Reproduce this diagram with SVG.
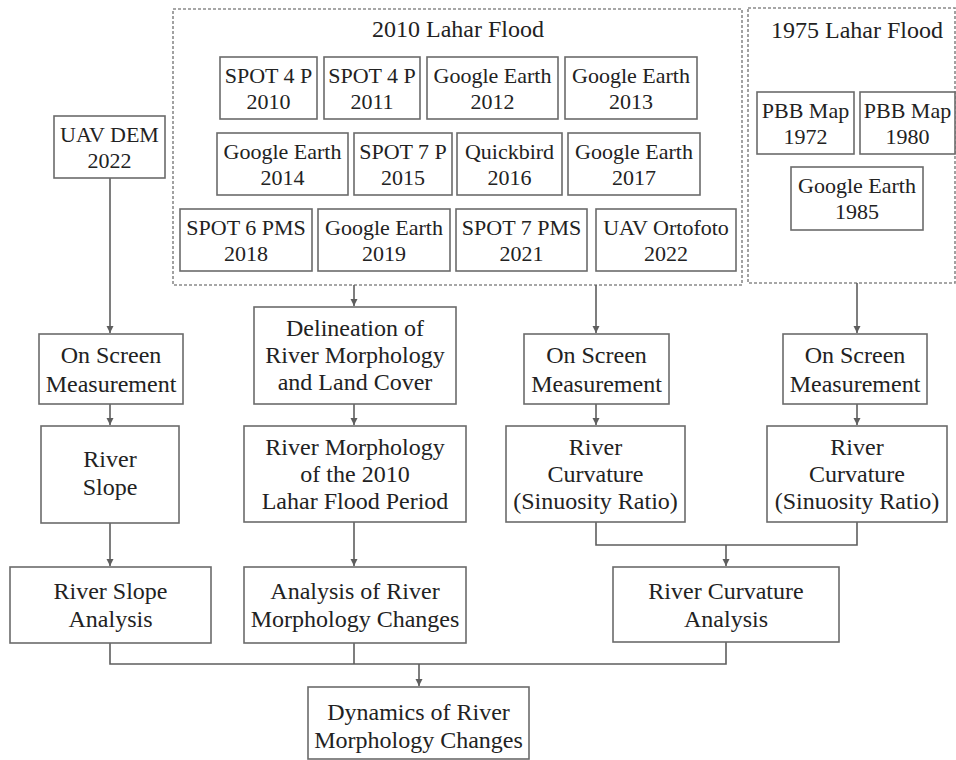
<svg xmlns="http://www.w3.org/2000/svg" width="956" height="760" viewBox="0 0 956 760">
<style>
.b{fill:#fff;stroke:#6b6b6b;stroke-width:1.6}
.d{fill:none;stroke:#8a8a8a;stroke-width:1.6;stroke-dasharray:3 2}
text{font-family:'Liberation Serif','DejaVu Serif',serif;fill:#222;text-anchor:middle}
.s{font-size:22px}
.t{font-size:24px}
.c{fill:none;stroke:#5e5e5e;stroke-width:1.6}
</style>
<defs>
<marker id="a" markerWidth="8" markerHeight="8" refX="7" refY="4" orient="auto" markerUnits="userSpaceOnUse">
<path d="M0,0.5 L7,4 L0,7.5 Z" fill="#5e5e5e"/>
</marker>
</defs>
<rect width="956" height="760" fill="#fff"/>
<g id="group2010">
<rect class="d" x="173" y="9" width="569" height="276"/>
<text class="t" x="458" y="37">2010 Lahar Flood</text>
</g>
<g id="group1975">
<rect class="d" x="748" y="8" width="207" height="275"/>
<text class="t" x="857" y="38">1975 Lahar Flood</text>
</g>
<g id="connectors">
<path class="c" d="M110,178 V333" marker-end="url(#a)"/>
<path class="c" d="M354,285 V306" marker-end="url(#a)"/>
<path class="c" d="M596,285 V333" marker-end="url(#a)"/>
<path class="c" d="M857,283 V333" marker-end="url(#a)"/>
<path class="c" d="M110,404 V425" marker-end="url(#a)"/>
<path class="c" d="M354,404 V425" marker-end="url(#a)"/>
<path class="c" d="M596,404 V425" marker-end="url(#a)"/>
<path class="c" d="M857,404 V425" marker-end="url(#a)"/>
<path class="c" d="M110,523 V566" marker-end="url(#a)"/>
<path class="c" d="M354,522 V566" marker-end="url(#a)"/>
<path class="c" d="M596,522 V545 H857 V522"/>
<path class="c" d="M726,545 V566" marker-end="url(#a)"/>
<path class="c" d="M110,643 V664 H726 V642"/>
<path class="c" d="M354,643 V664"/>
<path class="c" d="M419,664 V686" marker-end="url(#a)"/>
</g>
<g id="spot4p2010"><rect class="b" x="220" y="57" width="97" height="62"/><text class="s" x="268.5" y="82.5">SPOT 4 P</text><text class="s" x="268.5" y="108.5">2010</text></g>
<g id="spot4p2011"><rect class="b" x="324" y="57" width="96" height="62"/><text class="s" x="372" y="82.5">SPOT 4 P</text><text class="s" x="372" y="108.5">2011</text></g>
<g id="ge2012"><rect class="b" x="427" y="57" width="131" height="62"/><text class="s" x="492.5" y="82.5">Google Earth</text><text class="s" x="492.5" y="108.5">2012</text></g>
<g id="ge2013"><rect class="b" x="565" y="57" width="132" height="62"/><text class="s" x="631" y="82.5">Google Earth</text><text class="s" x="631" y="108.5">2013</text></g>
<g id="ge2014"><rect class="b" x="217" y="133" width="131" height="62"/><text class="s" x="282.5" y="158.5">Google Earth</text><text class="s" x="282.5" y="184.5">2014</text></g>
<g id="spot7p2015"><rect class="b" x="354" y="133" width="98" height="62"/><text class="s" x="403" y="158.5">SPOT 7 P</text><text class="s" x="403" y="184.5">2015</text></g>
<g id="quickbird2016"><rect class="b" x="457" y="133" width="105" height="62"/><text class="s" x="509.5" y="158.5">Quickbird</text><text class="s" x="509.5" y="184.5">2016</text></g>
<g id="ge2017"><rect class="b" x="568" y="133" width="132" height="62"/><text class="s" x="634" y="158.5">Google Earth</text><text class="s" x="634" y="184.5">2017</text></g>
<g id="spot6pms2018"><rect class="b" x="180" y="209" width="132" height="62"/><text class="s" x="246" y="234.5">SPOT 6 PMS</text><text class="s" x="246" y="260.5">2018</text></g>
<g id="ge2019"><rect class="b" x="318" y="209" width="132" height="62"/><text class="s" x="384" y="234.5">Google Earth</text><text class="s" x="384" y="260.5">2019</text></g>
<g id="spot7pms2021"><rect class="b" x="456" y="209" width="131" height="62"/><text class="s" x="521.5" y="234.5">SPOT 7 PMS</text><text class="s" x="521.5" y="260.5">2021</text></g>
<g id="uavortofoto2022"><rect class="b" x="596" y="209" width="140" height="62"/><text class="s" x="666" y="234.5">UAV Ortofoto</text><text class="s" x="666" y="260.5">2022</text></g>
<g id="pbb1972"><rect class="b" x="757" y="92" width="97" height="62"/><text class="s" x="805.5" y="117.5">PBB Map</text><text class="s" x="805.5" y="143.5">1972</text></g>
<g id="pbb1980"><rect class="b" x="860" y="92" width="95" height="62"/><text class="s" x="907.5" y="117.5">PBB Map</text><text class="s" x="907.5" y="143.5">1980</text></g>
<g id="ge1985"><rect class="b" x="791" y="167" width="132" height="63"/><text class="s" x="857" y="193">Google Earth</text><text class="s" x="857" y="219">1985</text></g>
<g id="uavdem2022"><rect class="b" x="54" y="116" width="111" height="62"/><text class="s" x="109.5" y="141.5">UAV DEM</text><text class="s" x="109.5" y="167.5">2022</text></g>
<g id="osm1"><rect class="b" x="39" y="334" width="144" height="70"/><text class="t" x="111" y="363">On Screen</text><text class="t" x="111" y="392">Measurement</text></g>
<g id="delineation"><rect class="b" x="254" y="307" width="202" height="97"/><text class="t" x="355" y="336">Delineation of</text><text class="t" x="355" y="363">River Morphology</text><text class="t" x="355" y="390">and Land Cover</text></g>
<g id="osm3"><rect class="b" x="524" y="334" width="145" height="70"/><text class="t" x="596.5" y="363">On Screen</text><text class="t" x="596.5" y="392">Measurement</text></g>
<g id="osm4"><rect class="b" x="783" y="334" width="144" height="70"/><text class="t" x="855" y="363">On Screen</text><text class="t" x="855" y="392">Measurement</text></g>
<g id="riverslope"><rect class="b" x="41" y="426" width="138" height="97"/><text class="t" x="110" y="467">River</text><text class="t" x="110" y="495">Slope</text></g>
<g id="rm2010"><rect class="b" x="244" y="426" width="222" height="96"/><text class="t" x="355" y="455">River Morphology</text><text class="t" x="355" y="482">of the 2010</text><text class="t" x="355" y="509">Lahar Flood Period</text></g>
<g id="rc1"><rect class="b" x="506" y="426" width="179" height="96"/><text class="t" x="595.5" y="455">River</text><text class="t" x="595.5" y="482">Curvature</text><text class="t" x="595.5" y="509">(Sinuosity Ratio)</text></g>
<g id="rc2"><rect class="b" x="767" y="426" width="180" height="96"/><text class="t" x="857" y="455">River</text><text class="t" x="857" y="482">Curvature</text><text class="t" x="857" y="509">(Sinuosity Ratio)</text></g>
<g id="rsa"><rect class="b" x="10" y="567" width="201" height="76"/><text class="t" x="110.5" y="599">River Slope</text><text class="t" x="110.5" y="627">Analysis</text></g>
<g id="armc"><rect class="b" x="244" y="567" width="222" height="76"/><text class="t" x="355" y="599">Analysis of River</text><text class="t" x="355" y="627">Morphology Changes</text></g>
<g id="rca"><rect class="b" x="613" y="567" width="226" height="75"/><text class="t" x="726" y="599">River Curvature</text><text class="t" x="726" y="627">Analysis</text></g>
<g id="dynamics"><rect class="b" x="308" y="687" width="221" height="72"/><text class="t" x="418.5" y="720">Dynamics of River</text><text class="t" x="418.5" y="748">Morphology Changes</text></g>
</svg>
